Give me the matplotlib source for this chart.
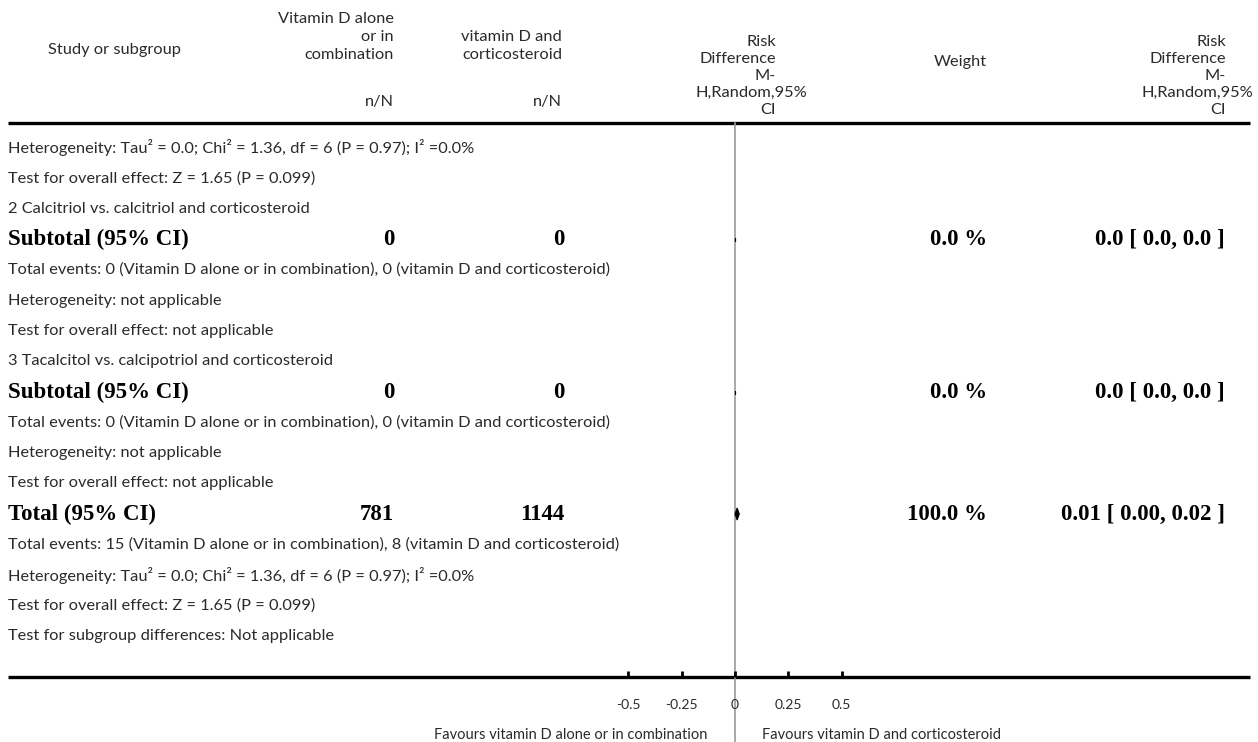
import matplotlib
matplotlib.use('Agg')
import matplotlib.pyplot as plt
from matplotlib.patches import Polygon

# data ----
row_labels = [
    'Heterogeneity: Tau² = 0.0; Chi² = 1.36, df = 6 (P = 0.97); I² =0.0%',
    'Test for overall effect: Z = 1.65 (P = 0.099)',
    '2 Calcitriol vs. calcitriol and corticosteroid',
    'Subtotal (95% CI)',
    'Total events: 0 (Vitamin D alone or in combination), 0 (vitamin D and corticosteroid)',
    'Heterogeneity: not applicable',
    'Test for overall effect: not applicable',
    '3 Tacalcitol vs. calcipotriol and corticosteroid',
    'Subtotal (95% CI)',
    'Total events: 0 (Vitamin D alone or in combination), 0 (vitamin D and corticosteroid)',
    'Heterogeneity: not applicable',
    'Test for overall effect: not applicable',
    'Total (95% CI)',
    'Total events: 15 (Vitamin D alone or in combination), 8 (vitamin D and corticosteroid)',
    'Heterogeneity: Tau² = 0.0; Chi² = 1.36, df = 6 (P = 0.97); I² =0.0%',
    'Test for overall effect: Z = 1.65 (P = 0.099)',
    'Test for subgroup differences: Not applicable',
]
# summary rows (index into row_labels)
sum_rows = [3, 8, 12]
n_vitd = ['0', '0', '781']
n_combo = ['0', '0', '1144']
weights = ['0.0 %', '0.0 %', '100.0 %']
rd = [0.0, 0.0, 0.01]
rd_lo = [0.0, 0.0, 0.00]
rd_hi = [0.0, 0.0, 0.02]
rd_text = ['0.0 [ 0.0, 0.0 ]', '0.0 [ 0.0, 0.0 ]', '0.01 [ 0.00, 0.02 ]']
ticks = [-0.5, -0.25, 0, 0.25, 0.5]
tick_labels = ['-0.5', '-0.25', '0', '0.25', '0.5']
col1_head = ['Vitamin D alone', 'or in', 'combination']
col2_head = ['vitamin D and', 'corticosteroid']
rd_head = ['Risk', 'Difference', 'M-', 'H,Random,95%', 'CI']
fav_left = 'Favours vitamin D alone or in combination'
fav_right = 'Favours vitamin D and corticosteroid'

W, H = 1258, 742
x0, px_per_unit = 735, 213.6

fig = plt.figure(figsize=(W / 100, H / 100), dpi=100)
ax = fig.add_axes([0, 0, 1, 1])
ax.set_xlim(0, W)
ax.set_ylim(H, 0)
ax.axis('off')

# forest axes in risk-difference units
fax = fig.add_axes([0, 0, 1, 1])
fax.set_xlim(-x0 / px_per_unit, (W - x0) / px_per_unit)
fax.set_ylim(H, 0)
fax.axis('off')
fax.patch.set_alpha(0)

sans = 'Lato'
serif = 'Liberation Serif'
tcol = '#2a2a2a'
fs = 11.8
fsb = 16.5

# header
ax.text(115, 50, 'Study or subgroup', ha='center', va='center', fontsize=fs, family=sans, color=tcol)
for i, s in enumerate(col1_head):
    ax.text(394, 19 + i * 18, s, ha='right', va='center', fontsize=fs, family=sans, color=tcol)
for i, s in enumerate(col2_head):
    ax.text(562, 37 + i * 18, s, ha='right', va='center', fontsize=fs, family=sans, color=tcol)
ax.text(394, 102, 'n/N', ha='right', va='center', fontsize=fs, family=sans, color=tcol)
ax.text(562, 102, 'n/N', ha='right', va='center', fontsize=fs, family=sans, color=tcol)
for i, s in enumerate(rd_head):
    wide = s.startswith('H,')
    ax.text(807 if wide else 776, 42 + i * 17, s, ha='right', va='center', fontsize=fs,
            family=sans, color=tcol)
    ax.text(1253 if wide else 1226, 42 + i * 17, s, ha='right', va='center', fontsize=fs,
            family=sans, color=tcol)
ax.text(960, 62, 'Weight', ha='center', va='center', fontsize=fs, family=sans, color=tcol)

# header and bottom rule
ax.plot([8, 1250], [123, 123], color='black', lw=2.4, solid_capstyle='butt')
ax.plot([8, 1250], [677, 677], color='black', lw=2.4, solid_capstyle='butt')

# zero line
fax.plot([0, 0], [123, H], color='#999999', lw=1.2, zorder=1)

# rows
y_first, dy = 148, 30.5
for i, lab in enumerate(row_labels):
    y = y_first + i * dy
    if i in sum_rows:
        k = sum_rows.index(i)
        bold = dict(va='center', fontsize=fsb, family=serif, weight='bold', color='black')
        ax.text(8, y, lab, ha='left', **bold)
        ax.text(394, y, n_vitd[k], ha='right', **bold)
        ax.text(564, y, n_combo[k], ha='right', **bold)
        ax.text(987, y, weights[k], ha='right', **bold)
        ax.text(1225, y, rd_text[k], ha='right', **bold)
        h = 6 if k == 2 else 1.5
        dia = Polygon([(rd_lo[k], y), (rd[k], y - h), (rd_hi[k], y), (rd[k], y + h)],
                      closed=True, facecolor='black', edgecolor='black', lw=0.8, zorder=3)
        fax.add_patch(dia)
    else:
        ax.text(8, y, lab, ha='left', va='center', fontsize=fs, family=sans, color=tcol)

# axis ticks
for t, tl in zip(ticks, tick_labels):
    fax.plot([t, t], [671, 677], color='black', lw=2.0, solid_capstyle='butt')
    fax.text(t, 705, tl, ha='center', va='center', fontsize=10, family=sans, color=tcol)

ax.text(707, 735, fav_left, ha='right', va='center', fontsize=10.5, family=sans, color=tcol)
ax.text(762, 735, fav_right, ha='left', va='center', fontsize=10.5, family=sans, color=tcol)

fig.savefig('out.png', dpi=100)
